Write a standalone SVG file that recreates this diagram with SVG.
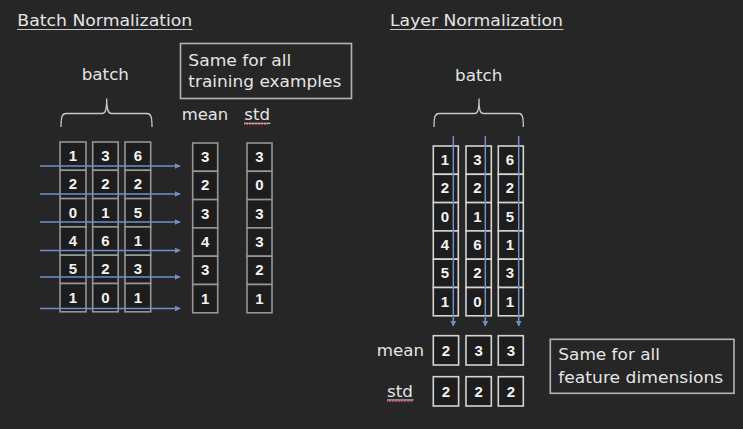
<svg xmlns="http://www.w3.org/2000/svg" width="743" height="429" viewBox="0 0 743 429">
<defs>
<marker id="ah" viewBox="0 0 10 10" refX="9" refY="5" markerWidth="4" markerHeight="4" orient="auto" markerUnits="strokeWidth">
<path d="M0,0 L10,5 L0,10 z" fill="#6f90c6"/>
</marker>
<style>
.t{font-family:"DejaVu Sans","Liberation Sans",sans-serif;font-size:15px;fill:#e4e4e4}
.n{font-family:"Liberation Sans","DejaVu Sans",sans-serif;font-size:15px;font-weight:bold;fill:#f2f2f2;text-anchor:middle}
.cl{fill:#1d1d1d;stroke:#959595;stroke-width:1.6}
.cr{fill:#1d1d1d;stroke:#d4d4d4;stroke-width:1.6}
.box{fill:none;stroke:#b4b4b4;stroke-width:1.6}
.ul{stroke:#c8c8c8;stroke-width:1.2;fill:none}
.br{stroke:#c8c8c8;stroke-width:1.3;fill:none}
.sq{stroke:#c04050;stroke-width:1;fill:none}
.ar{stroke:#6f90c6;stroke-width:1.5;fill:none;marker-end:url(#ah)}
</style>
</defs>
<rect width="743" height="429" fill="#262626"/>

<g id="title-batch">
<text class="t" x="17.3" y="26" textLength="175" lengthAdjust="spacingAndGlyphs">Batch Normalization</text>
<line class="ul" x1="17" y1="29.5" x2="192.5" y2="29.5"/>
</g>
<g id="title-layer">
<text class="t" x="390" y="26" textLength="173" lengthAdjust="spacingAndGlyphs">Layer Normalization</text>
<line class="ul" x1="390" y1="29.5" x2="563.5" y2="29.5"/>
</g>

<g id="label-batch-left">
<text class="t" x="81.7" y="80" textLength="47.3" lengthAdjust="spacingAndGlyphs">batch</text>
<path class="br" d="M61,127 C61,117 62,113.5 66,113.5 L102,113.5 C105,113.5 106.7,111 106.7,98.5 C106.7,111 108.5,113.5 111.5,113.5 L147,113.5 C151,113.5 152,117 152,127"/>
</g>
<g id="note-left">
<rect class="box" x="180.5" y="43.5" width="171" height="55"/>
<text class="t" x="188.3" y="65.7" textLength="103" lengthAdjust="spacingAndGlyphs">Same for all</text>
<text class="t" x="188.3" y="87.3" textLength="153" lengthAdjust="spacingAndGlyphs">training examples</text>
</g>
<g id="label-mean-left">
<text class="t" x="181.7" y="120" textLength="46.6" lengthAdjust="spacingAndGlyphs">mean</text>
</g>
<g id="label-std-left">
<text class="t" x="244.3" y="120" textLength="25.7" lengthAdjust="spacingAndGlyphs">std</text>
<line class="ul" x1="244" y1="123.3" x2="270.5" y2="123.3"/>
<path class="sq" d="M244,125 l1.5,-1.2 l1.5,1.2 l1.5,-1.2 l1.5,1.2 l1.5,-1.2 l1.5,1.2 l1.5,-1.2 l1.5,1.2 l1.5,-1.2 l1.5,1.2 l1.5,-1.2 l1.5,1.2 l1.5,-1.2 l1.5,1.2 l1.5,-1.2 l1.5,1.2"/>
</g>

<g id="bn-col1">
<rect class="cl" x="60" y="142" width="26" height="28.3"/><rect class="cl" x="60" y="170.3" width="26" height="28.3"/><rect class="cl" x="60" y="198.6" width="26" height="28.3"/><rect class="cl" x="60" y="226.9" width="26" height="28.3"/><rect class="cl" x="60" y="255.2" width="26" height="28.3"/><rect class="cl" x="60" y="283.5" width="26" height="28.3"/>
<text class="n" x="73" y="161">1</text><text class="n" x="73" y="189.3">2</text><text class="n" x="73" y="217.6">0</text><text class="n" x="73" y="245.9">4</text><text class="n" x="73" y="274.2">5</text><text class="n" x="73" y="302.5">1</text>
</g>
<g id="bn-col2">
<rect class="cl" x="92.7" y="142" width="25.5" height="28.3"/><rect class="cl" x="92.7" y="170.3" width="25.5" height="28.3"/><rect class="cl" x="92.7" y="198.6" width="25.5" height="28.3"/><rect class="cl" x="92.7" y="226.9" width="25.5" height="28.3"/><rect class="cl" x="92.7" y="255.2" width="25.5" height="28.3"/><rect class="cl" x="92.7" y="283.5" width="25.5" height="28.3"/>
<text class="n" x="105.5" y="161">3</text><text class="n" x="105.5" y="189.3">2</text><text class="n" x="105.5" y="217.6">1</text><text class="n" x="105.5" y="245.9">6</text><text class="n" x="105.5" y="274.2">2</text><text class="n" x="105.5" y="302.5">0</text>
</g>
<g id="bn-col3">
<rect class="cl" x="125" y="142" width="25.7" height="28.3"/><rect class="cl" x="125" y="170.3" width="25.7" height="28.3"/><rect class="cl" x="125" y="198.6" width="25.7" height="28.3"/><rect class="cl" x="125" y="226.9" width="25.7" height="28.3"/><rect class="cl" x="125" y="255.2" width="25.7" height="28.3"/><rect class="cl" x="125" y="283.5" width="25.7" height="28.3"/>
<text class="n" x="137.8" y="161">6</text><text class="n" x="137.8" y="189.3">2</text><text class="n" x="137.8" y="217.6">5</text><text class="n" x="137.8" y="245.9">1</text><text class="n" x="137.8" y="274.2">3</text><text class="n" x="137.8" y="302.5">1</text>
</g>
<g id="bn-mean">
<rect class="cl" x="192.7" y="143" width="25" height="28.3"/><rect class="cl" x="192.7" y="171.3" width="25" height="28.3"/><rect class="cl" x="192.7" y="199.6" width="25" height="28.3"/><rect class="cl" x="192.7" y="227.9" width="25" height="28.3"/><rect class="cl" x="192.7" y="256.2" width="25" height="28.3"/><rect class="cl" x="192.7" y="284.5" width="25" height="28.3"/>
<text class="n" x="205.2" y="162">3</text><text class="n" x="205.2" y="190.3">2</text><text class="n" x="205.2" y="218.6">3</text><text class="n" x="205.2" y="246.9">4</text><text class="n" x="205.2" y="275.2">3</text><text class="n" x="205.2" y="303.5">1</text>
</g>
<g id="bn-std">
<rect class="cl" x="247" y="143" width="25" height="28.3"/><rect class="cl" x="247" y="171.3" width="25" height="28.3"/><rect class="cl" x="247" y="199.6" width="25" height="28.3"/><rect class="cl" x="247" y="227.9" width="25" height="28.3"/><rect class="cl" x="247" y="256.2" width="25" height="28.3"/><rect class="cl" x="247" y="284.5" width="25" height="28.3"/>
<text class="n" x="259.5" y="162">3</text><text class="n" x="259.5" y="190.3">0</text><text class="n" x="259.5" y="218.6">3</text><text class="n" x="259.5" y="246.9">3</text><text class="n" x="259.5" y="275.2">2</text><text class="n" x="259.5" y="303.5">1</text>
</g>

<g id="label-batch-right">
<text class="t" x="455" y="81" textLength="47.3" lengthAdjust="spacingAndGlyphs">batch</text>
<path class="br" d="M434,127 C434,117 435,113.5 439,113.5 L474.5,113.5 C477.5,113.5 479,111 479,98.5 C479,111 480.5,113.5 483.5,113.5 L519,113.5 C522.5,113.5 523.3,117 523.3,127"/>
</g>

<g id="ln-col1">
<rect class="cr" x="433.3" y="146" width="25" height="28.3"/><rect class="cr" x="433.3" y="174.3" width="25" height="28.3"/><rect class="cr" x="433.3" y="202.6" width="25" height="28.3"/><rect class="cr" x="433.3" y="230.9" width="25" height="28.3"/><rect class="cr" x="433.3" y="259.2" width="25" height="28.3"/><rect class="cr" x="433.3" y="287.5" width="25" height="28.3"/>
<text class="n" x="445" y="165">1</text><text class="n" x="445" y="193.3">2</text><text class="n" x="445" y="221.6">0</text><text class="n" x="445" y="249.9">4</text><text class="n" x="445" y="278.2">5</text><text class="n" x="445" y="306.5">1</text>
</g>
<g id="ln-col2">
<rect class="cr" x="466" y="146" width="25.3" height="28.3"/><rect class="cr" x="466" y="174.3" width="25.3" height="28.3"/><rect class="cr" x="466" y="202.6" width="25.3" height="28.3"/><rect class="cr" x="466" y="230.9" width="25.3" height="28.3"/><rect class="cr" x="466" y="259.2" width="25.3" height="28.3"/><rect class="cr" x="466" y="287.5" width="25.3" height="28.3"/>
<text class="n" x="477.5" y="165">3</text><text class="n" x="477.5" y="193.3">2</text><text class="n" x="477.5" y="221.6">1</text><text class="n" x="477.5" y="249.9">6</text><text class="n" x="477.5" y="278.2">2</text><text class="n" x="477.5" y="306.5">0</text>
</g>
<g id="ln-col3">
<rect class="cr" x="498.3" y="146" width="25" height="28.3"/><rect class="cr" x="498.3" y="174.3" width="25" height="28.3"/><rect class="cr" x="498.3" y="202.6" width="25" height="28.3"/><rect class="cr" x="498.3" y="230.9" width="25" height="28.3"/><rect class="cr" x="498.3" y="259.2" width="25" height="28.3"/><rect class="cr" x="498.3" y="287.5" width="25" height="28.3"/>
<text class="n" x="510" y="165">6</text><text class="n" x="510" y="193.3">2</text><text class="n" x="510" y="221.6">5</text><text class="n" x="510" y="249.9">1</text><text class="n" x="510" y="278.2">3</text><text class="n" x="510" y="306.5">1</text>
</g>

<g id="label-mean-right">
<text class="t" x="376.7" y="356" textLength="47.3" lengthAdjust="spacingAndGlyphs">mean</text>
</g>
<g id="ln-mean">
<rect class="cr" x="433.3" y="335.7" width="25.3" height="29.3"/><rect class="cr" x="466" y="335.7" width="25.3" height="29.3"/><rect class="cr" x="498.3" y="335.7" width="25" height="29.3"/>
<text class="n" x="446" y="355.5">2</text><text class="n" x="478.6" y="355.5">3</text><text class="n" x="510.8" y="355.5">3</text>
</g>
<g id="label-std-right">
<text class="t" x="387" y="396.7" textLength="26" lengthAdjust="spacingAndGlyphs">std</text>
<line class="ul" x1="387" y1="400" x2="413.5" y2="400"/>
<path class="sq" d="M387,402 l1.5,-1.2 l1.5,1.2 l1.5,-1.2 l1.5,1.2 l1.5,-1.2 l1.5,1.2 l1.5,-1.2 l1.5,1.2 l1.5,-1.2 l1.5,1.2 l1.5,-1.2 l1.5,1.2 l1.5,-1.2 l1.5,1.2 l1.5,-1.2 l1.5,1.2 l1.5,-1.2"/>
</g>
<g id="ln-std">
<rect class="cr" x="433.3" y="376.7" width="25.3" height="29.3"/><rect class="cr" x="466" y="376.7" width="25.3" height="29.3"/><rect class="cr" x="498.3" y="376.7" width="25" height="29.3"/>
<text class="n" x="446" y="396.5">2</text><text class="n" x="478.6" y="396.5">2</text><text class="n" x="510.8" y="396.5">2</text>
</g>
<g id="note-right">
<rect class="box" x="550.3" y="339.3" width="183.7" height="54"/>
<text class="t" x="558.3" y="360" textLength="101.7" lengthAdjust="spacingAndGlyphs">Same for all</text>
<text class="t" x="558.3" y="383.3" textLength="165" lengthAdjust="spacingAndGlyphs">feature dimensions</text>
</g>

<g id="connectors">
<line class="ar" x1="40" y1="166" x2="180" y2="166"/>
<line class="ar" x1="40" y1="194" x2="180" y2="194"/>
<line class="ar" x1="40" y1="222" x2="180" y2="222"/>
<line class="ar" x1="40" y1="250.5" x2="180" y2="250.5"/>
<line class="ar" x1="40" y1="277" x2="180" y2="277"/>
<line class="ar" x1="40" y1="308.5" x2="180" y2="308.5"/>
<line class="ar" x1="453.3" y1="136" x2="453.3" y2="326"/>
<line class="ar" x1="485.3" y1="136" x2="485.3" y2="326"/>
<line class="ar" x1="518.7" y1="136" x2="518.7" y2="326"/>
</g>
</svg>
